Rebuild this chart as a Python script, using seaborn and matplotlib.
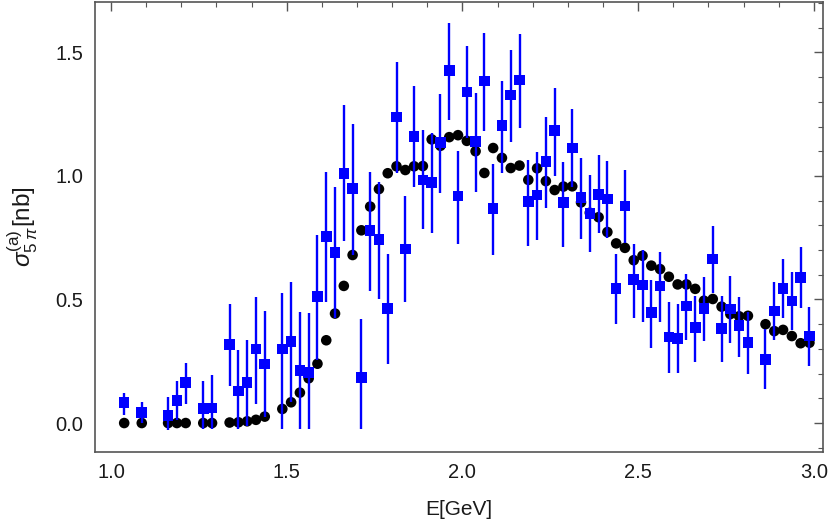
import numpy as np
import pandas as pd
import matplotlib
matplotlib.use("Agg")
import matplotlib.pyplot as plt
import seaborn as sns
from matplotlib.ticker import MultipleLocator, FormatStrFormatter

# ---- data ----
energy = [1.0375, 1.0875, 1.1625, 1.1875, 1.2125, 1.2625, 1.2875, 1.3375, 1.3625, 1.3875,
          1.4125, 1.4375, 1.4875, 1.5125, 1.5375, 1.5625, 1.5875, 1.6125, 1.6375, 1.6625,
          1.6875, 1.7125, 1.7375, 1.7625, 1.7875, 1.8125, 1.8375, 1.8625, 1.8875, 1.9125,
          1.9375, 1.9625, 1.9875, 2.0125, 2.0375, 2.0625, 2.0875, 2.1125, 2.1375, 2.1625,
          2.1875, 2.2125, 2.2375, 2.2625, 2.2875, 2.3125, 2.3375, 2.3625, 2.3875, 2.4125,
          2.4375, 2.4625, 2.4875, 2.5125, 2.5375, 2.5625, 2.5875, 2.6125, 2.6375, 2.6625,
          2.6875, 2.7125, 2.7375, 2.7625, 2.7875, 2.8125, 2.8625, 2.8875, 2.9125, 2.9375,
          2.9625, 2.9875]

model_sigma = [0.0, 0.0, 0.0, 0.0, 0.0, 0.0, 0.0, 0.002, 0.003, 0.007,
               0.013, 0.026, 0.057, 0.084, 0.123, 0.181, 0.240, 0.335, 0.443, 0.555,
               0.680, 0.780, 0.876, 0.947, 1.011, 1.039, 1.024, 1.039, 1.040, 1.148,
               1.122, 1.157, 1.165, 1.142, 1.100, 1.012, 1.113, 1.073, 1.032, 1.042,
               0.984, 1.031, 0.979, 0.943, 0.957, 0.958, 0.893, 0.851, 0.833, 0.773,
               0.727, 0.709, 0.659, 0.677, 0.637, 0.623, 0.592, 0.561, 0.561, 0.543,
               0.495, 0.502, 0.471, 0.441, 0.432, 0.434, 0.400, 0.372, 0.377, 0.352,
               0.323, 0.325]

data_sigma = [0.082, 0.043, 0.030, 0.092, 0.165, 0.058, 0.061, 0.319, 0.130, 0.163,
              0.300, 0.239, 0.300, 0.330, 0.213, 0.205, 0.511, 0.756, 0.690, 1.010,
              0.949, 0.185, 0.779, 0.742, 0.464, 1.238, 0.704, 1.159, 0.984, 0.974,
              1.135, 1.427, 0.919, 1.340, 1.139, 1.385, 0.868, 1.205, 1.327, 1.389,
              0.896, 0.923, 1.058, 1.183, 0.892, 1.113, 0.912, 0.849, 0.926, 0.907,
              0.544, 0.879, 0.580, 0.559, 0.448, 0.555, 0.349, 0.343, 0.474, 0.387,
              0.464, 0.664, 0.382, 0.462, 0.394, 0.327, 0.258, 0.453, 0.545, 0.494,
              0.590, 0.352]

data_low = [0.034, 0.001, -0.028, 0.013, 0.077, -0.026, -0.026, 0.151, -0.026, -0.012,
            0.077, 0.025, -0.026, 0.085, -0.026, -0.026, 0.255, 0.489, 0.426, 0.737,
            0.680, -0.026, 0.534, 0.503, 0.238, 1.011, 0.489, 0.957, 0.784, 0.768,
            0.930, 1.227, 0.723, 1.153, 0.936, 1.182, 0.679, 1.013, 1.139, 1.196,
            0.717, 0.741, 0.869, 1.000, 0.714, 0.956, 0.744, 0.691, 0.768, 0.748,
            0.400, 0.728, 0.426, 0.410, 0.302, 0.410, 0.201, 0.201, 0.336, 0.248,
            0.332, 0.525, 0.246, 0.323, 0.266, 0.197, 0.136, 0.336, 0.424, 0.377,
            0.464, 0.232]

data_high = [0.123, 0.086, 0.106, 0.171, 0.244, 0.169, 0.193, 0.482, 0.296, 0.336,
             0.511, 0.453, 0.528, 0.570, 0.451, 0.444, 0.760, 1.016, 0.954, 1.287,
             1.210, 0.422, 1.016, 0.977, 0.685, 1.463, 0.918, 1.364, 1.185, 1.175,
             1.330, 1.621, 1.101, 1.527, 1.335, 1.580, 1.049, 1.386, 1.510, 1.575,
             1.065, 1.096, 1.240, 1.355, 1.055, 1.270, 1.074, 1.004, 1.085, 1.062,
             0.683, 1.024, 0.725, 0.700, 0.579, 0.691, 0.491, 0.481, 0.603, 0.514,
             0.590, 0.798, 0.514, 0.595, 0.511, 0.451, 0.380, 0.572, 0.663, 0.613,
             0.711, 0.471]

x_ticks = [1.0, 1.5, 2.0, 2.5, 3.0]
y_ticks = [0.0, 0.5, 1.0, 1.5]

df = pd.DataFrame({"E": energy, "model": model_sigma, "data": data_sigma,
                   "lo": data_low, "hi": data_high})

# ---- style ----
sns.set_theme(style="white")
plt.rcParams["font.family"] = ["Liberation Sans", "DejaVu Sans"]
plt.rcParams["mathtext.fontset"] = "custom"
plt.rcParams["mathtext.rm"] = "Liberation Sans"
plt.rcParams["mathtext.it"] = "Liberation Sans:italic"
plt.rcParams["mathtext.bf"] = "Liberation Sans:bold"

fig = plt.figure(figsize=(8.30, 5.26), dpi=100)
ax = fig.add_axes([94.5 / 830, 1 - 451.7 / 526, (823.3 - 94.5) / 830, (451.7 - 1.5) / 526])

frame_col = "#555555"
text_col = "#1a1a1a"

# model points (black circles)
sns.scatterplot(data=df, x="E", y="model", ax=ax, marker="o", s=58,
                color="black", edgecolor="none", linewidth=0, zorder=3, legend=False)

# data error bars
ax.vlines(df["E"], df["lo"], df["hi"], color="#0000ff", linewidth=1.7, zorder=4)
# data points (blue squares)
sns.scatterplot(data=df, x="E", y="data", ax=ax, marker="s", s=58,
                color="#0000ff", edgecolor="none", linewidth=0, zorder=5, legend=False)

ax.set_xlim(0.953, 3.027)
ax.set_ylim(-0.116, 1.706)

ax.xaxis.set_minor_locator(MultipleLocator(0.1))
ax.yaxis.set_minor_locator(MultipleLocator(0.1))
ax.set_xticks(x_ticks)
ax.set_yticks(y_ticks)
ax.xaxis.set_major_formatter(FormatStrFormatter("%.1f"))
ax.yaxis.set_major_formatter(FormatStrFormatter("%.1f"))

ax.tick_params(which="both", direction="in", top=True, right=True,
               color=frame_col, labelsize=14.5, labelcolor=text_col)
ax.tick_params(which="major", length=6.5, width=1.0, pad=8)
ax.tick_params(which="minor", length=3.5, width=0.8)

for sp in ax.spines.values():
    sp.set_color(frame_col)
    sp.set_linewidth(1.2)

ax.set_xlabel("E[GeV]", fontsize=15, color=text_col, labelpad=13)
ax.set_ylabel(r"$\sigma_{5\;\pi}^{(\mathrm{a})}$[nb]", fontsize=17.5, color=text_col, labelpad=11)

fig.savefig("out.png", dpi=100)
